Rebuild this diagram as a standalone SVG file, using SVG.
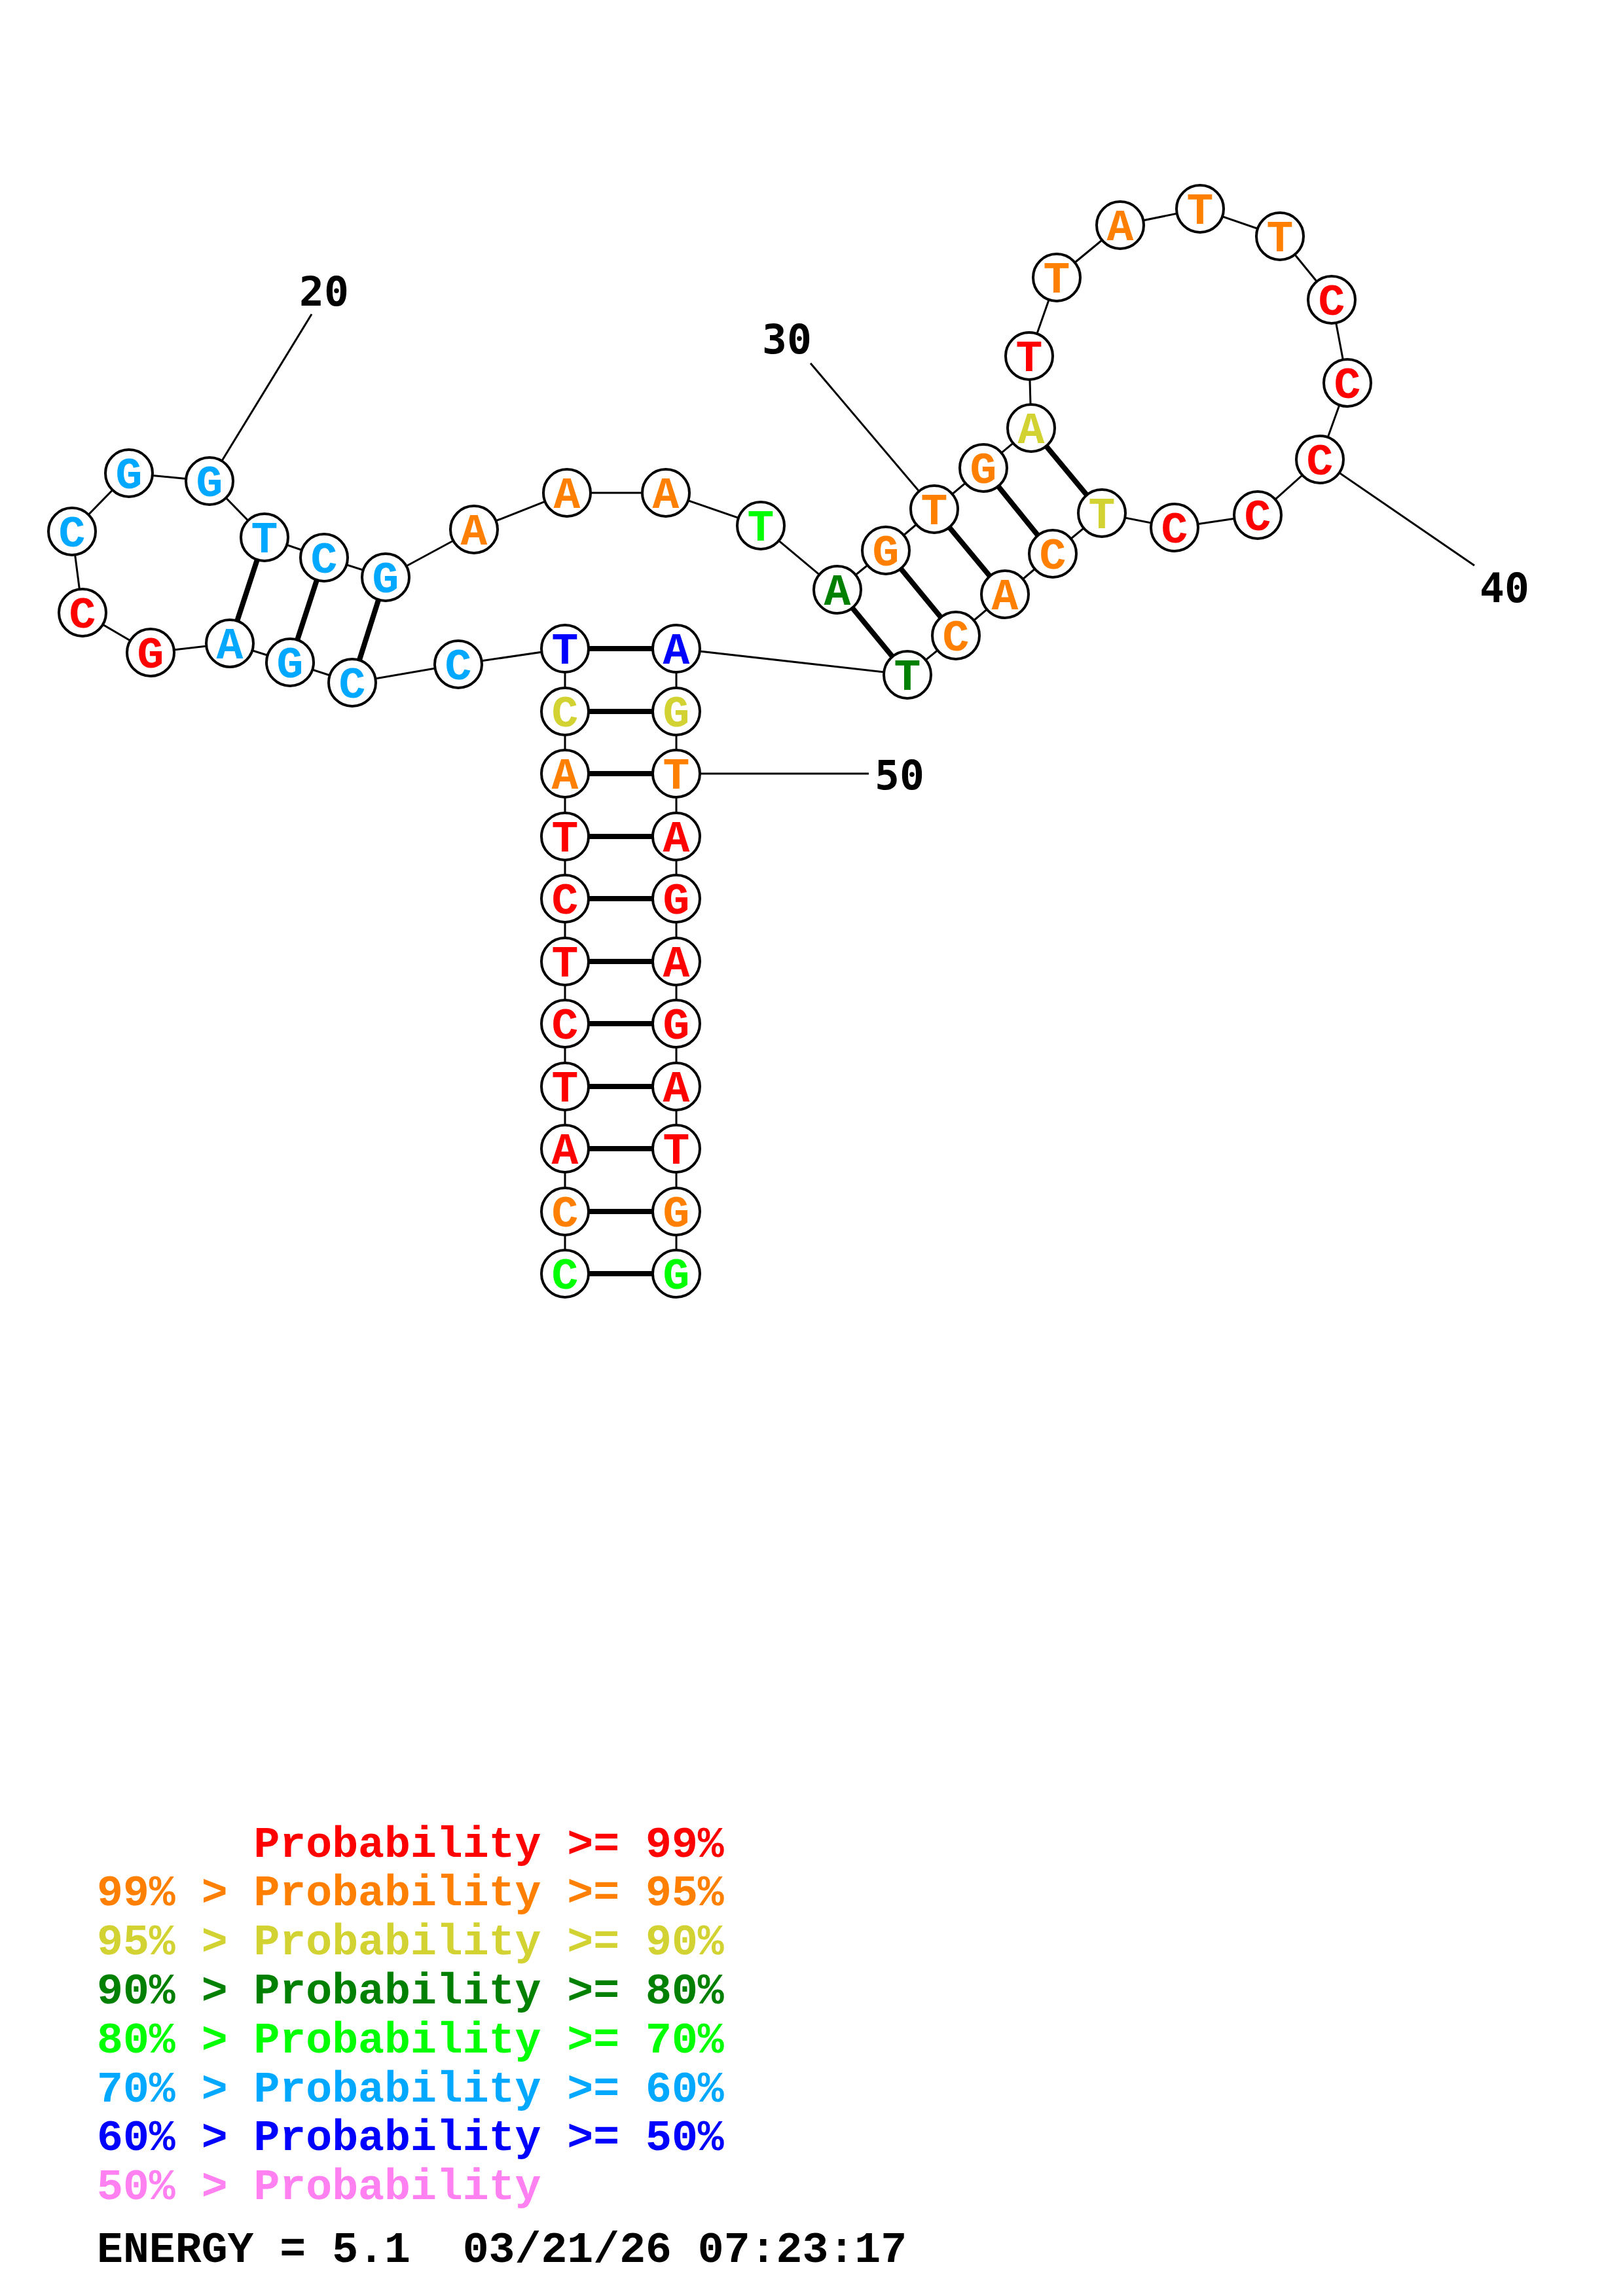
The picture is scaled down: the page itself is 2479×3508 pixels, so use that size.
<svg xmlns="http://www.w3.org/2000/svg" width="2479" height="3508" viewBox="0 0 2479 3508">
<style>
.bb{stroke:#000;stroke-width:3;fill:none}
.bp{stroke:#000;stroke-width:8}
circle{fill:#fff;stroke:#000;stroke-width:4;r:36px}
.n text{font-family:"Liberation Mono","Courier New",monospace;font-weight:bold;font-size:68px;text-anchor:middle}
.num{font-family:"DejaVu Sans Mono","Liberation Mono",monospace;font-weight:bold;font-size:63px;text-anchor:middle;fill:#000}
.leg{font-family:"Liberation Mono","Courier New",monospace;font-weight:bold;font-size:66.5px;white-space:pre}
.r{fill:#FF0000}.o{fill:#FF8000}.y{fill:#D2D232}.dg{fill:#008000}.g{fill:#00FF00}.lb{fill:#00A8FF}.b{fill:#0000FF}.p{fill:#FF80F0}.k{fill:#000}
</style>
<rect width="2479" height="3508" fill="#fff"/>
<g id="connectors">
<polyline class="bb" points="863,1946 863,1851 863,1755 863,1660 863,1564 863,1469 863,1373 863,1278 863,1182 863,1087 863,991 700,1015 538,1043 443,1012 351,983 230,997 126,936 110,812 197,723 320,735 404,821 495,852 589,882 724,809 866,753 1017,753 1162,803 1279,901 1353,841 1427,778 1502,715 1575,654 1572,544 1614,424 1711,344 1833,319 1955,361 2034,458 2058,585 2016,702 1921,787 1794,806 1683,784 1608,846 1535,908 1460,971 1386,1031 1033,991 1033,1087 1033,1182 1033,1278 1033,1373 1033,1469 1033,1564 1033,1660 1033,1755 1033,1851 1033,1946"/>
<line class="bp" x1="863" y1="1946" x2="1033" y2="1946"/>
<line class="bp" x1="863" y1="1851" x2="1033" y2="1851"/>
<line class="bp" x1="863" y1="1755" x2="1033" y2="1755"/>
<line class="bp" x1="863" y1="1660" x2="1033" y2="1660"/>
<line class="bp" x1="863" y1="1564" x2="1033" y2="1564"/>
<line class="bp" x1="863" y1="1469" x2="1033" y2="1469"/>
<line class="bp" x1="863" y1="1373" x2="1033" y2="1373"/>
<line class="bp" x1="863" y1="1278" x2="1033" y2="1278"/>
<line class="bp" x1="863" y1="1182" x2="1033" y2="1182"/>
<line class="bp" x1="863" y1="1087" x2="1033" y2="1087"/>
<line class="bp" x1="863" y1="991" x2="1033" y2="991"/>
<line class="bp" x1="404" y1="821" x2="351" y2="983"/>
<line class="bp" x1="495" y1="852" x2="443" y2="1012"/>
<line class="bp" x1="589" y1="882" x2="538" y2="1043"/>
<line class="bp" x1="1279" y1="901" x2="1386" y2="1031"/>
<line class="bp" x1="1353" y1="841" x2="1460" y2="971"/>
<line class="bp" x1="1427" y1="778" x2="1535" y2="908"/>
<line class="bp" x1="1502" y1="715" x2="1608" y2="846"/>
<line class="bp" x1="1575" y1="654" x2="1683" y2="784"/>
<line class="bb" x1="476" y1="480" x2="320" y2="735"/>
<line class="bb" x1="1238" y1="555" x2="1427" y2="778"/>
<line class="bb" x1="2252" y1="864" x2="2016" y2="702"/>
<line class="bb" x1="1033" y1="1182" x2="1327" y2="1182"/>
</g>
<g id="labels">
<text class="num" x="495" y="467">20</text>
<text class="num" x="1202" y="540">30</text>
<text class="num" x="2298" y="920">40</text>
<text class="num" x="1374" y="1206">50</text>
</g>
<g class="n">
<g id="n1"><circle cx="863" cy="1946"/><text class="g" x="863" y="1969">C</text></g>
<g id="n2"><circle cx="863" cy="1851"/><text class="o" x="863" y="1874">C</text></g>
<g id="n3"><circle cx="863" cy="1755"/><text class="r" x="863" y="1778">A</text></g>
<g id="n4"><circle cx="863" cy="1660"/><text class="r" x="863" y="1683">T</text></g>
<g id="n5"><circle cx="863" cy="1564"/><text class="r" x="863" y="1587">C</text></g>
<g id="n6"><circle cx="863" cy="1469"/><text class="r" x="863" y="1492">T</text></g>
<g id="n7"><circle cx="863" cy="1373"/><text class="r" x="863" y="1396">C</text></g>
<g id="n8"><circle cx="863" cy="1278"/><text class="r" x="863" y="1301">T</text></g>
<g id="n9"><circle cx="863" cy="1182"/><text class="o" x="863" y="1205">A</text></g>
<g id="n10"><circle cx="863" cy="1087"/><text class="y" x="863" y="1110">C</text></g>
<g id="n11"><circle cx="863" cy="991"/><text class="b" x="863" y="1014">T</text></g>
<g id="n12"><circle cx="700" cy="1015"/><text class="lb" x="700" y="1038">C</text></g>
<g id="n13"><circle cx="538" cy="1043"/><text class="lb" x="538" y="1066">C</text></g>
<g id="n14"><circle cx="443" cy="1012"/><text class="lb" x="443" y="1035">G</text></g>
<g id="n15"><circle cx="351" cy="983"/><text class="lb" x="351" y="1006">A</text></g>
<g id="n16"><circle cx="230" cy="997"/><text class="r" x="230" y="1020">G</text></g>
<g id="n17"><circle cx="126" cy="936"/><text class="r" x="126" y="959">C</text></g>
<g id="n18"><circle cx="110" cy="812"/><text class="lb" x="110" y="835">C</text></g>
<g id="n19"><circle cx="197" cy="723"/><text class="lb" x="197" y="746">G</text></g>
<g id="n20"><circle cx="320" cy="735"/><text class="lb" x="320" y="758">G</text></g>
<g id="n21"><circle cx="404" cy="821"/><text class="lb" x="404" y="844">T</text></g>
<g id="n22"><circle cx="495" cy="852"/><text class="lb" x="495" y="875">C</text></g>
<g id="n23"><circle cx="589" cy="882"/><text class="lb" x="589" y="905">G</text></g>
<g id="n24"><circle cx="724" cy="809"/><text class="o" x="724" y="832">A</text></g>
<g id="n25"><circle cx="866" cy="753"/><text class="o" x="866" y="776">A</text></g>
<g id="n26"><circle cx="1017" cy="753"/><text class="o" x="1017" y="776">A</text></g>
<g id="n27"><circle cx="1162" cy="803"/><text class="g" x="1162" y="826">T</text></g>
<g id="n28"><circle cx="1279" cy="901"/><text class="dg" x="1279" y="924">A</text></g>
<g id="n29"><circle cx="1353" cy="841"/><text class="o" x="1353" y="864">G</text></g>
<g id="n30"><circle cx="1427" cy="778"/><text class="o" x="1427" y="801">T</text></g>
<g id="n31"><circle cx="1502" cy="715"/><text class="o" x="1502" y="738">G</text></g>
<g id="n32"><circle cx="1575" cy="654"/><text class="y" x="1575" y="677">A</text></g>
<g id="n33"><circle cx="1572" cy="544"/><text class="r" x="1572" y="567">T</text></g>
<g id="n34"><circle cx="1614" cy="424"/><text class="o" x="1614" y="447">T</text></g>
<g id="n35"><circle cx="1711" cy="344"/><text class="o" x="1711" y="367">A</text></g>
<g id="n36"><circle cx="1833" cy="319"/><text class="o" x="1833" y="342">T</text></g>
<g id="n37"><circle cx="1955" cy="361"/><text class="o" x="1955" y="384">T</text></g>
<g id="n38"><circle cx="2034" cy="458"/><text class="r" x="2034" y="481">C</text></g>
<g id="n39"><circle cx="2058" cy="585"/><text class="r" x="2058" y="608">C</text></g>
<g id="n40"><circle cx="2016" cy="702"/><text class="r" x="2016" y="725">C</text></g>
<g id="n41"><circle cx="1921" cy="787"/><text class="r" x="1921" y="810">C</text></g>
<g id="n42"><circle cx="1794" cy="806"/><text class="r" x="1794" y="829">C</text></g>
<g id="n43"><circle cx="1683" cy="784"/><text class="y" x="1683" y="807">T</text></g>
<g id="n44"><circle cx="1608" cy="846"/><text class="o" x="1608" y="869">C</text></g>
<g id="n45"><circle cx="1535" cy="908"/><text class="o" x="1535" y="931">A</text></g>
<g id="n46"><circle cx="1460" cy="971"/><text class="o" x="1460" y="994">C</text></g>
<g id="n47"><circle cx="1386" cy="1031"/><text class="dg" x="1386" y="1054">T</text></g>
<g id="n48"><circle cx="1033" cy="991"/><text class="b" x="1033" y="1014">A</text></g>
<g id="n49"><circle cx="1033" cy="1087"/><text class="y" x="1033" y="1110">G</text></g>
<g id="n50"><circle cx="1033" cy="1182"/><text class="o" x="1033" y="1205">T</text></g>
<g id="n51"><circle cx="1033" cy="1278"/><text class="r" x="1033" y="1301">A</text></g>
<g id="n52"><circle cx="1033" cy="1373"/><text class="r" x="1033" y="1396">G</text></g>
<g id="n53"><circle cx="1033" cy="1469"/><text class="r" x="1033" y="1492">A</text></g>
<g id="n54"><circle cx="1033" cy="1564"/><text class="r" x="1033" y="1587">G</text></g>
<g id="n55"><circle cx="1033" cy="1660"/><text class="r" x="1033" y="1683">A</text></g>
<g id="n56"><circle cx="1033" cy="1755"/><text class="r" x="1033" y="1778">T</text></g>
<g id="n57"><circle cx="1033" cy="1851"/><text class="o" x="1033" y="1874">G</text></g>
<g id="n58"><circle cx="1033" cy="1946"/><text class="g" x="1033" y="1969">G</text></g>
</g>
<g id="legend">
<text class="leg r" x="148" y="2837">      Probability &gt;= 99%</text>
<text class="leg o" x="148" y="2911">99% &gt; Probability &gt;= 95%</text>
<text class="leg y" x="148" y="2986">95% &gt; Probability &gt;= 90%</text>
<text class="leg dg" x="148" y="3061">90% &gt; Probability &gt;= 80%</text>
<text class="leg g" x="148" y="3136">80% &gt; Probability &gt;= 70%</text>
<text class="leg lb" x="148" y="3211">70% &gt; Probability &gt;= 60%</text>
<text class="leg b" x="148" y="3285">60% &gt; Probability &gt;= 50%</text>
<text class="leg p" x="148" y="3360">50% &gt; Probability</text>
<text class="leg k" x="148" y="3456">ENERGY = 5.1  03/21/26 07:23:17</text>
</g>
</svg>
